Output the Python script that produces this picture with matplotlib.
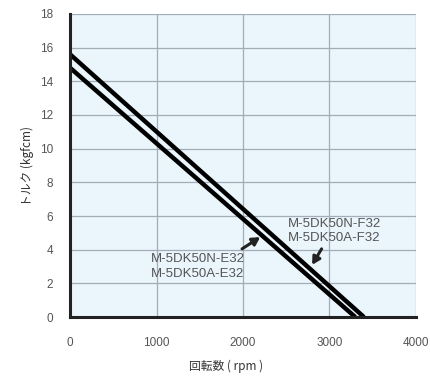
import matplotlib
matplotlib.use("Agg")
import matplotlib.pyplot as plt

plt.rcParams['font.family'] = ['Liberation Sans', 'Noto Sans CJK JP', 'DejaVu Sans']

# speed (rpm) vs torque (kgfcm)
speed_f32 = [0, 3400]
torque_f32 = [15.6, 0]
speed_e32 = [0, 3300]
torque_e32 = [14.8, 0]

label_f32 = "M-5DK50N-F32\nM-5DK50A-F32"
label_e32 = "M-5DK50N-E32\nM-5DK50A-E32"

x_ticks = [0, 1000, 2000, 3000, 4000]
y_ticks = [0, 2, 4, 6, 8, 10, 12, 14, 16, 18]

fig = plt.figure(figsize=(4.3, 3.77), dpi=100)
ax = fig.add_axes([0.163, 0.159, 0.804, 0.804])
ax.set_facecolor("#eaf5fc")

ax.plot(speed_f32, torque_f32, color="black", lw=3.2, solid_capstyle="butt")
ax.plot(speed_e32, torque_e32, color="black", lw=3.2, solid_capstyle="butt")

ax.set_xlim(0, 4000)
ax.set_ylim(0, 18)
ax.set_xticks(x_ticks)
ax.set_yticks(y_ticks)
ax.grid(True, color="#a3adb5", lw=0.9)
ax.set_axisbelow(True)
ax.tick_params(length=0, labelsize=8.5, labelcolor="#555555")
ax.tick_params(axis="x", pad=14)
ax.tick_params(axis="y", pad=12)

for s in ["top", "right"]:
    ax.spines[s].set_visible(False)
for s in ["left", "bottom"]:
    ax.spines[s].set_linewidth(2.2)
    ax.spines[s].set_color("#222222")

ax.text(2520, 5.1, label_f32, fontsize=9.5, color="#555555", va="center",
        linespacing=1.25)
ax.text(930, 3.0, label_e32, fontsize=9.5, color="#555555", va="center",
        linespacing=1.25)

arrow = dict(arrowstyle="-|>,head_length=0.45,head_width=0.25", color="#222222",
             lw=2.2, shrinkA=0, shrinkB=0)
ax.annotate("", xy=(2200, 4.75), xytext=(1990, 4.05), arrowprops=arrow)
ax.annotate("", xy=(2800, 3.1), xytext=(2910, 4.05), arrowprops=arrow)

ax.set_xlabel("回転数 ( rpm )", fontsize=8.5, color="#333333",
              family=["Noto Sans CJK JP", "DejaVu Sans"])
ax.xaxis.set_label_coords(0.45, -0.14)
ax.set_ylabel("トルク (kgfcm)", fontsize=8.5, color="#333333",
              family=["Noto Sans CJK JP", "DejaVu Sans"])
ax.yaxis.set_label_coords(-0.104, 0.5)

fig.savefig("out.png", dpi=100)
